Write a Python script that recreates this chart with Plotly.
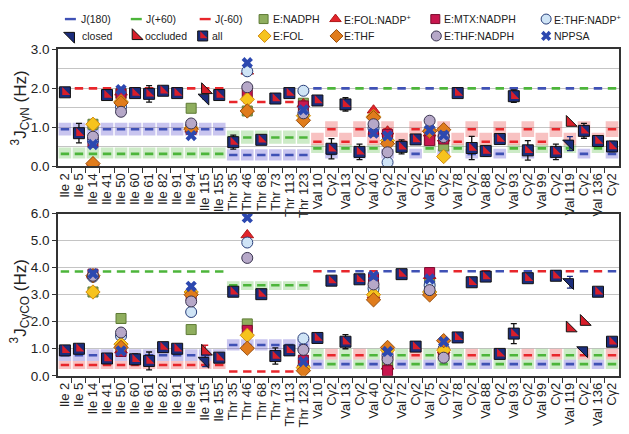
import plotly.graph_objects as go

# ---------------- data ----------------
categories = [
    "Ile 2", "Ile 5", "Ile 14", "Ile 41", "Ile 50", "Ile 60", "Ile 61", "Ile 82",
    "Ile 91", "Ile 94", "Ile 115", "Ile 155",
    "Thr 35", "Thr 46", "Thr 68", "Thr 73", "Thr 113", "Thr 123",
    "Val 10", "Cγ2", "Val 13", "Cγ2", "Val 40", "Cγ2", "Val 72", "Cγ2",
    "Val 75", "Cγ2", "Val 78", "Cγ2", "Val 88", "Cγ2", "Val 93", "Cγ2",
    "Val 99", "Cγ2", "Val 119", "Cγ2", "Val 136", "Cγ2",
]

# 3J(CγN), all structures
cgn_all = [1.90, 0.85, None, 1.83, None, 1.88, 1.86, 1.94, 1.88, None, None, 1.83,
           0.62, None, 0.68, 1.74, 1.88, None,
           1.69, 0.45, 1.59, 0.37, None, None, 0.50, 0.69, None, None,
           1.88, 0.47, 0.39, 0.70, 1.80, 0.41, None, 0.37, None, 0.91, 0.65, 0.51]
cgn_all_err = [0.04, 0.25, None, 0.04, None, 0.04, 0.21, 0.04, 0.04, None, None, 0.04,
               0.18, None, 0.04, 0.04, 0.04, None,
               0.04, 0.26, 0.17, 0.20, None, None, 0.18, 0.04, None, None,
               0.04, 0.30, 0.13, 0.04, 0.16, 0.25, None, 0.20, None, 0.19, 0.04, 0.13]
cgn_closed = [None] * 10 + [1.76] + [None] * 25 + [0.58] + [None] * 3
cgn_closed_err = [None] * 10 + [0.03] + [None] * 25 + [0.18] + [None] * 3
cgn_occluded = [None] * 10 + [1.96] + [None] * 25 + [1.12] + [None] * 3

# 3J(CγCO), all structures
cgco_all = [0.94, 1.00, None, 0.64, None, 0.61, 0.55, 1.06, 1.00, None, None, 0.67,
            3.11, None, 3.02, 0.73, 0.94, None,
            1.40, 3.52, 1.26, 3.57, None, None, 3.76, 1.08, None, None,
            1.42, 3.46, 3.67, 0.81, 1.56, 3.61, None, 3.70, None, None, 3.11, 1.26]
cgco_all_err = [0.10, 0.08, None, 0.05, None, 0.20, 0.33, 0.05, 0.05, None, None, 0.05,
                0.05, None, 0.10, 0.30, 0.05, None,
                0.05, 0.05, 0.26, 0.05, None, None, 0.05, 0.05, None, None,
                0.05, 0.05, 0.05, 0.05, 0.37, 0.05, None, 0.05, None, None, 0.05, 0.05]
cgco_closed = [None] * 10 + [0.55] + [None] * 25 + [3.46, 0.94] + [None] * 2
cgco_closed_err = [None] * 10 + [0.21] + [None] * 25 + [0.22, None] + [None] * 2
cgco_occluded = [None] * 10 + [0.90] + [None] * 25 + [1.76, 2.00] + [None] * 2
cgco_occluded_err = [None] * 10 + [0.23] + [None] * 25 + [None, None] + [None] * 2

# individual complexes (residues where they spread out): category indices
spread_idx = [2, 4, 9, 13, 17, 22, 23, 26, 27]
complex_names = ["E:NADPH", "E:FOL:NADP<sup>+</sup>", "E:MTX:NADPH", "E:THF:NADP<sup>+</sup>",
                 "E:FOL", "E:THF", "E:THF:NADPH", "NPPSA"]
cgn_nadph     = [1.08, 1.88, 1.49, 1.42, 1.62, 0.90, 0.70, 0.78, 0.52]
cgn_fol_nadp  = [0.10, 1.90, 0.95, 2.44, 1.60, 1.44, 0.90, 0.85, 0.72]
cgn_mtx       = [0.62, 1.86, 0.95, 1.87, 1.55, 0.92, 0.82, 0.66, 0.70]
cgn_thf_nadp  = [0.66, 1.52, 1.02, 2.44, 1.94, 0.98, 0.10, 0.95, 0.78]
cgn_fol       = [1.08, 1.66, 0.98, 1.72, 1.30, 1.28, 0.66, 0.90, 0.25]
cgn_thf       = [0.07, 1.63, 0.95, 1.42, 1.18, 1.25, 0.58, 0.90, 0.94]
cgn_thf_nadph = [0.76, 1.40, 1.10, 2.03, 1.36, 1.08, 0.36, 1.17, 0.75]
cgn_nppsa     = [0.56, 1.97, 0.79, 2.66, 1.45, 0.85, 0.78, 0.93, 0.80]

cgco_nadph     = [3.10, 2.12, 1.71, 1.92, 0.50, 3.30, 0.45, 3.40, 0.90]
cgco_fol_nadp  = [3.72, 0.95, 3.20, 5.21, 0.45, 2.99, 0.35, 3.70, 0.95]
cgco_mtx       = [3.76, 0.90, 2.95, 1.68, 0.58, 3.60, 0.19, 3.82, 0.90]
cgco_thf_nadp  = [3.66, 1.47, 2.36, 4.93, 1.38, 3.23, 0.75, 3.35, 1.00]
cgco_fol       = [3.10, 1.17, 3.10, 1.50, 0.30, 3.00, 0.95, 3.10, 0.95]
cgco_thf       = [3.70, 1.05, 3.00, 1.02, 0.19, 2.81, 1.05, 2.99, 1.30]
cgco_thf_nadph = [3.70, 1.60, 2.75, 4.36, 0.96, 3.38, 0.61, 3.17, 0.67]
cgco_nppsa     = [3.78, 0.92, 3.31, 5.85, 0.52, 3.70, 0.90, 3.58, 1.26]

# reference couplings for each rotamer, per methyl type
methyl_types = ["Ile", "Thr", "Val Cγ1", "Val Cγ2"]
cgn_j180 = [0.95, 0.29, 2.00, 0.32]
cgn_j180_lo = [0.79, 0.15, None, 0.20]
cgn_j180_hi = [1.12, 0.44, None, 0.45]
cgn_jp60 = [0.32, 0.74, 0.46, 2.00]
cgn_jp60_lo = [0.20, 0.58, 0.34, None]
cgn_jp60_hi = [0.48, 0.92, 0.56, None]
cgn_jm60 = [2.00, 1.65, 0.63, 0.95]
cgn_jm60_lo = [None, None, 0.54, 0.75]
cgn_jm60_hi = [None, None, 0.86, 1.16]

cgco_j180 = [0.76, 1.14, 0.43, 3.87]
cgco_j180_lo = [0.55, 0.94, 0.25, None]
cgco_j180_hi = [0.98, 1.35, 0.60, None]
cgco_jp60 = [3.86, 3.35, 0.76, 0.43]
cgco_jp60_lo = [None, 3.17, 0.60, 0.25]
cgco_jp60_hi = [None, 3.50, 1.00, 0.60]
cgco_jm60 = [0.40, 0.16, 3.87, 0.76]
cgco_jm60_lo = [0.25, None, None, 0.60]
cgco_jm60_hi = [0.55, None, None, 1.00]

# ---------------- styling ----------------
FONT = "Arial, Liberation Sans, sans-serif"
BLUE, GREEN, RED = "#3f51b5", "#4cb53a", "#e8262b"
BAND = {"blue": "rgba(100,90,210,0.35)", "green": "rgba(90,190,70,0.30)", "red": "rgba(235,80,80,0.35)"}
NAVY, ALLRED = "#1b2d7c", "#d81e2a"
complex_style = [
    ("square", "#8fae5e", "#5d7a35", 10),
    ("triangle-up", "#e2242b", "#b01818", 11),
    ("square", "#c8164e", "#7a0c2e", 10),
    ("circle", "#cfe4f6", "#2a3f7a", 11),
    ("diamond", "#f6c31d", "#d28b10", 11),
    ("diamond", "#e07c1c", "#9a4e0c", 11),
    ("circle", "#b6a8c8", "#3a3550", 11),
    ("x", "#2c48b0", "#2c48b0", 10),
]


def mtype(label):
    if label.startswith("Ile"):
        return 0
    if label.startswith("Thr"):
        return 1
    if label.startswith("Val"):
        return 2
    return 3


types = [mtype(c) for c in categories]
N = len(categories)
fig = go.Figure()


def add_reference(xa, ya, vals, lo, hi, color, band):
    bx, by, lx, ly = [], [], [], []
    for i in range(N):
        t = types[i]
        if lo[t] is not None:
            bx += [i - 0.45, i + 0.45, i + 0.45, i - 0.45, i - 0.45, None]
            by += [lo[t], lo[t], hi[t], hi[t], lo[t], None]
        lx += [i - 0.3, i + 0.3, None]
        ly += [vals[t], vals[t], None]
    if bx:
        fig.add_trace(go.Scatter(x=bx, y=by, xaxis=xa, yaxis=ya, mode="lines", fill="toself",
                                 fillcolor=band, line=dict(width=0), hoverinfo="skip", showlegend=False))
    return lx, ly, color


def add_panel(xa, ya, refs, allv, allerr, closed, closed_err, occl, occl_err, cplx):
    lines = []
    for vals, lo, hi, color, band in refs:
        lines.append(add_reference(xa, ya, vals, lo, hi, color, band))
    for lx, ly, color in lines:
        fig.add_trace(go.Scatter(x=lx, y=ly, xaxis=xa, yaxis=ya, mode="lines",
                                 line=dict(color=color, width=2.6), hoverinfo="skip", showlegend=False))
    for vals, (sym, fc, lc, sz) in zip(cplx, complex_style):
        fig.add_trace(go.Scatter(x=spread_idx, y=vals, xaxis=xa, yaxis=ya, mode="markers",
                                 marker=dict(symbol=sym, size=sz, color=fc,
                                             line=dict(color=lc, width=0 if sym == "x" else 1)),
                                 showlegend=False))
    xs = list(range(N))
    err = dict(type="data", array=allerr, color="#111", thickness=1.3, width=3)
    fig.add_trace(go.Scatter(x=xs, y=allv, xaxis=xa, yaxis=ya, mode="markers", error_y=err,
                             marker=dict(symbol="square", size=11, color=NAVY, line=dict(color="#111", width=1)),
                             showlegend=False))
    fig.add_trace(go.Scatter(x=xs, y=allv, xaxis=xa, yaxis=ya, mode="markers",
                             marker=dict(symbol="triangle-sw", size=9, color=ALLRED, line=dict(width=0)),
                             showlegend=False))
    fig.add_trace(go.Scatter(x=xs, y=occl, xaxis=xa, yaxis=ya, mode="markers",
                             error_y=dict(type="data", array=occl_err, color=ALLRED, thickness=1.3, width=3),
                             marker=dict(symbol="triangle-sw", size=12, color=ALLRED, line=dict(color="#111", width=1)),
                             showlegend=False))
    fig.add_trace(go.Scatter(x=xs, y=closed, xaxis=xa, yaxis=ya, mode="markers",
                             error_y=dict(type="data", array=closed_err, color=NAVY, thickness=1.3, width=3),
                             marker=dict(symbol="triangle-ne", size=12, color=NAVY, line=dict(color="#111", width=1)),
                             showlegend=False))


add_panel("x", "y",
          [(cgn_j180, cgn_j180_lo, cgn_j180_hi, BLUE, BAND["blue"]),
           (cgn_jp60, cgn_jp60_lo, cgn_jp60_hi, GREEN, BAND["green"]),
           (cgn_jm60, cgn_jm60_lo, cgn_jm60_hi, RED, BAND["red"])],
          cgn_all, cgn_all_err, cgn_closed, cgn_closed_err, cgn_occluded, [None] * N,
          [cgn_nadph, cgn_fol_nadp, cgn_mtx, cgn_thf_nadp, cgn_fol, cgn_thf, cgn_thf_nadph, cgn_nppsa])
add_panel("x2", "y2",
          [(cgco_j180, cgco_j180_lo, cgco_j180_hi, BLUE, BAND["blue"]),
           (cgco_jp60, cgco_jp60_lo, cgco_jp60_hi, GREEN, BAND["green"]),
           (cgco_jm60, cgco_jm60_lo, cgco_jm60_hi, RED, BAND["red"])],
          cgco_all, cgco_all_err, cgco_closed, cgco_closed_err, cgco_occluded, cgco_occluded_err,
          [cgco_nadph, cgco_fol_nadp, cgco_mtx, cgco_thf_nadp, cgco_fol, cgco_thf, cgco_thf_nadph, cgco_nppsa])

# ---------------- legend (drawn in a pixel-space helper axis) ----------------
legend_lines = [("J(180)", BLUE, 64, 79), ("J(+60)", GREEN, 130, 144), ("J(-60)", RED, 199, 213)]
legend_cplx_row1 = [(0, 263, 271), (1, 335, 343), (2, 435, 443), (3, 546, 553)]
legend_cplx_row2 = [(4, 264, 271), (5, 336, 343), (6, 436, 443), (7, 546, 553)]
ROW1, ROW2 = 12.5, 30
ann = []
for name, color, x0, xt in legend_lines:
    fig.add_trace(go.Scatter(x=[x0, x0 + 11], y=[ROW1, ROW1], xaxis="x3", yaxis="y3", mode="lines",
                             line=dict(color=color, width=2.4), showlegend=False, hoverinfo="skip"))
    ann.append((name, xt, ROW1))
for row, items in ((ROW1, legend_cplx_row1), (ROW2, legend_cplx_row2)):
    for k, xm, xt in items:
        sym, fc, lc, sz = complex_style[k]
        fig.add_trace(go.Scatter(x=[xm], y=[row], xaxis="x3", yaxis="y3", mode="markers",
                                 marker=dict(symbol=sym, size=sz - 1, color=fc,
                                             line=dict(color=lc, width=0 if sym == "x" else 1)),
                                 showlegend=False, hoverinfo="skip"))
        ann.append((complex_names[k], xt, row))
fig.add_trace(go.Scatter(x=[70], y=[ROW2], xaxis="x3", yaxis="y3", mode="markers",
                         marker=dict(symbol="triangle-ne", size=12, color=NAVY, line=dict(color="#111", width=1)),
                         showlegend=False, hoverinfo="skip"))
ann.append(("closed", 80, ROW2))
fig.add_trace(go.Scatter(x=[135], y=[ROW2], xaxis="x3", yaxis="y3", mode="markers",
                         marker=dict(symbol="triangle-sw", size=12, color=ALLRED, line=dict(color="#111", width=1)),
                         showlegend=False, hoverinfo="skip"))
ann.append(("occluded", 143, ROW2))
fig.add_trace(go.Scatter(x=[202], y=[ROW2], xaxis="x3", yaxis="y3", mode="markers",
                         marker=dict(symbol="square", size=10, color=NAVY, line=dict(color="#111", width=1)),
                         showlegend=False, hoverinfo="skip"))
fig.add_trace(go.Scatter(x=[202], y=[ROW2], xaxis="x3", yaxis="y3", mode="markers",
                         marker=dict(symbol="triangle-sw", size=8, color=ALLRED),
                         showlegend=False, hoverinfo="skip"))
ann.append(("all", 210, ROW2))

annotations = [dict(text=t, x=x, y=y, xref="x3", yref="y3", xanchor="left", yanchor="middle",
                    showarrow=False, borderpad=0, font=dict(family=FONT, size=10.5, color="#222"))
               for t, x, y in ann]
annotations.append(dict(text="<sup>3</sup>J<sub>CγN</sub> (Hz)", textangle=-90, x=19 / 629, y=1 - 104 / 434,
                        xref="paper", yref="paper", xanchor="center", yanchor="middle", showarrow=False,
                        font=dict(family=FONT, size=17, color="#222")))
annotations.append(dict(text="<sup>3</sup>J<sub>CγCO</sub> (Hz)", textangle=-90, x=19 / 629, y=1 - 305 / 434,
                        xref="paper", yref="paper", xanchor="center", yanchor="middle", showarrow=False,
                        font=dict(family=FONT, size=17, color="#222")))

# ---------------- axes ----------------
XD = [57 / 629, 619 / 629]
TOP = [1 - 165 / 434, 1 - 44 / 434]
BOT = [1 - 382 / 434, 1 - 214 / 434]


def xaxis_cfg(anchor):
    return dict(domain=XD, anchor=anchor, range=[-0.5, N - 0.5], tickmode="array",
                tickvals=list(range(N)), ticktext=categories, tickangle=-90, ticks="",
                tickfont=dict(family=FONT, size=13, color="#222"), showgrid=False, zeroline=False,
                showline=True, mirror=True, linecolor="#333", linewidth=1.5,
                minor=dict(tickmode="array", tickvals=[i + 0.5 for i in range(N - 1)],
                           ticks="outside", ticklen=5, tickcolor="#333", showgrid=False))


def yaxis_cfg(anchor, dom, top):
    return dict(domain=dom, anchor=anchor, range=[0, top], dtick=1, tick0=0, tickformat=".1f",
                ticks="outside", ticklen=4, tickcolor="#333",
                tickfont=dict(family=FONT, size=13.5, color="#222"),
                showgrid=True, gridcolor="#c4c4c4", gridwidth=1.2, zeroline=False,
                showline=True, mirror=True, linecolor="#333", linewidth=1.5,
                minor=dict(dtick=0.5, showgrid=top < 4, gridcolor="#c4c4c4", gridwidth=1.2))


fig.update_layout(
    width=629, height=434, autosize=False,
    margin=dict(l=0, r=0, t=0, b=0),
    paper_bgcolor="white", plot_bgcolor="rgba(0,0,0,0)",
    xaxis=xaxis_cfg("y"), yaxis=yaxis_cfg("x", TOP, 3.0),
    xaxis2=xaxis_cfg("y2"), yaxis2=yaxis_cfg("x2", BOT, 6.0),
    xaxis3=dict(domain=[0, 1], range=[0, 629], visible=False, anchor="y3", fixedrange=True),
    yaxis3=dict(domain=[0, 1], range=[434, 0], visible=False, anchor="x3", fixedrange=True),
    annotations=annotations,
    showlegend=False,
)

fig.write_html("out.html", config={"displayModeBar": False},
               post_script="document.body.style.margin='0px';")
